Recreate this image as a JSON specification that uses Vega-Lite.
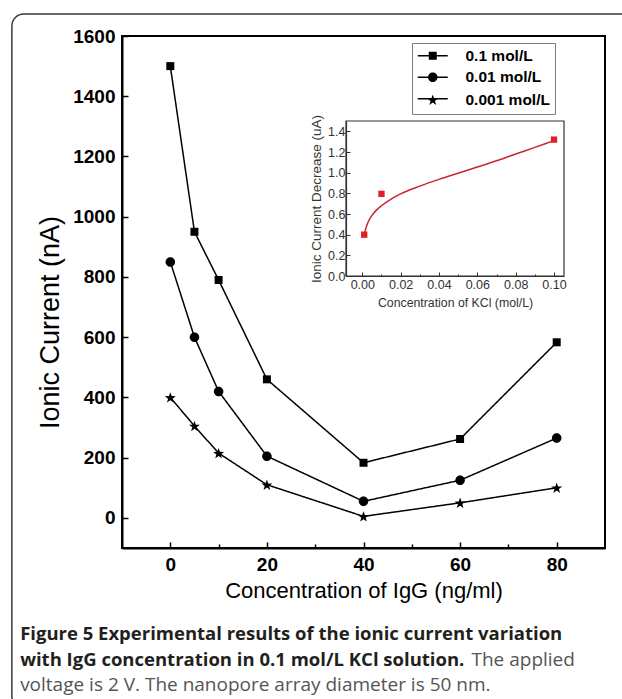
{
  "$schema": "https://vega.github.io/schema/vega-lite/v6.json",
  "width": 483,
  "height": 512,
  "autosize": {"type": "none"},
  "padding": {"left": 122, "top": 36, "right": 17, "bottom": 151},
  "background": "white",
  "datasets": {
    "main": [
      {"series": "0.1 mol/L", "igg": 0, "current": 1500},
      {"series": "0.1 mol/L", "igg": 5, "current": 950},
      {"series": "0.1 mol/L", "igg": 10, "current": 790},
      {"series": "0.1 mol/L", "igg": 20, "current": 460},
      {"series": "0.1 mol/L", "igg": 40, "current": 183},
      {"series": "0.1 mol/L", "igg": 60, "current": 262},
      {"series": "0.1 mol/L", "igg": 80, "current": 583},
      {"series": "0.01 mol/L", "igg": 0, "current": 850},
      {"series": "0.01 mol/L", "igg": 5, "current": 600},
      {"series": "0.01 mol/L", "igg": 10, "current": 420},
      {"series": "0.01 mol/L", "igg": 20, "current": 205},
      {"series": "0.01 mol/L", "igg": 40, "current": 55},
      {"series": "0.01 mol/L", "igg": 60, "current": 125},
      {"series": "0.01 mol/L", "igg": 80, "current": 265},
      {"series": "0.001 mol/L", "igg": 0, "current": 400},
      {"series": "0.001 mol/L", "igg": 5, "current": 305},
      {"series": "0.001 mol/L", "igg": 10, "current": 215},
      {"series": "0.001 mol/L", "igg": 20, "current": 110},
      {"series": "0.001 mol/L", "igg": 40, "current": 5},
      {"series": "0.001 mol/L", "igg": 60, "current": 50},
      {"series": "0.001 mol/L", "igg": 80, "current": 100}
    ],
    "inset_pts": [
      {"kcl": 0.001, "dec": 0.4},
      {"kcl": 0.01, "dec": 0.795},
      {"kcl": 0.1, "dec": 1.32}
    ],
    "inset_fit": [
      {"kcl": 0.001, "dec": 0.4},
      {"kcl": 0.002, "dec": 0.47},
      {"kcl": 0.003, "dec": 0.52},
      {"kcl": 0.005, "dec": 0.585},
      {"kcl": 0.0075, "dec": 0.64},
      {"kcl": 0.01, "dec": 0.68},
      {"kcl": 0.015, "dec": 0.745},
      {"kcl": 0.02, "dec": 0.795},
      {"kcl": 0.03, "dec": 0.87},
      {"kcl": 0.04, "dec": 0.935},
      {"kcl": 0.05, "dec": 0.995},
      {"kcl": 0.06, "dec": 1.055},
      {"kcl": 0.07, "dec": 1.115},
      {"kcl": 0.08, "dec": 1.18},
      {"kcl": 0.09, "dec": 1.245},
      {"kcl": 0.1, "dec": 1.31}
    ],
    "one": [{"v": 0}]
  },
  "title": {
    "text": ["Figure 5 Experimental results of the ionic current variation", "with IgG concentration in 0.1 mol/L KCl solution."],
    "subtitle": "voltage is 2 V. The nanopore array diameter is 50 nm.",
    "orient": "bottom",
    "anchor": "start",
    "frame": "bounds",
    "offset": -84,
    "dx": 9,
    "font": "Open Sans",
    "fontSize": 18.5,
    "fontWeight": "bold",
    "color": "#231f20",
    "lineHeight": 26,
    "subtitleFont": "Open Sans",
    "subtitleFontSize": 19,
    "subtitleFontWeight": "normal",
    "subtitleColor": "#555555",
    "subtitleLineHeight": 26,
    "subtitlePadding": 7
  },
  "layer": [
    {
      "layer": [
        {
          "data": {"name": "one"},
          "mark": {"type": "rect", "filled": false, "stroke": "#3a3a3a", "strokeWidth": 1.5, "cornerRadius": 12, "clip": false},
          "encoding": {
            "x": {"datum": -32.8, "type": "quantitative"},
            "x2": {"datum": 120},
            "y": {"datum": 1673, "type": "quantitative"},
            "y2": {"datum": -631}
          }
        },
        {
          "data": {"name": "main"},
          "mark": {"type": "line", "color": "black", "strokeWidth": 1.5},
          "encoding": {
            "x": {
              "field": "igg", "type": "quantitative",
              "scale": {"domain": [-10, 90], "nice": false, "zero": false},
              "axis": {
                "orient": "bottom",
                "values": [0, 10, 20, 30, 40, 50, 60, 70, 80],
                "format": "d",
                "labelExpr": "datum.value % 20 === 0 ? datum.label : ''",
                "tickSize": {"condition": {"test": "datum.value % 20 === 0", "value": -6}, "value": -4},
                "tickWidth": 1.5, "tickColor": "black",
                "domainColor": "black", "domainWidth": 2,
                "labelFont": "Liberation Sans", "labelFontSize": 19, "labelFontWeight": "bold", "labelColor": "black",
                "labelPadding": 13, "labelFlush": false, "labelOverlap": false,
                "title": "Concentration of IgG (ng/ml)",
                "titleFont": "Liberation Sans", "titleFontSize": 22, "titleFontWeight": "normal", "titleColor": "black",
                "titlePadding": 4, "grid": false
              }
            },
            "y": {
              "field": "current", "type": "quantitative",
              "scale": {"domain": [-100, 1600], "nice": false, "zero": false},
              "axis": {
                "orient": "left",
                "values": [0, 100, 200, 300, 400, 500, 600, 700, 800, 900, 1000, 1100, 1200, 1300, 1400, 1500, 1600],
                "format": "d",
                "labelExpr": "datum.value % 200 === 0 ? datum.label : ''",
                "tickSize": {"condition": {"test": "datum.value % 200 === 0", "value": -6}, "value": -4},
                "tickWidth": 1.5, "tickColor": "black",
                "domainColor": "black", "domainWidth": 2,
                "labelFont": "Liberation Sans", "labelFontSize": 19, "labelFontWeight": "bold", "labelColor": "black",
                "labelPadding": 13, "labelFlush": false, "labelOverlap": false,
                "title": "Ionic Current (nA)",
                "titleFont": "Liberation Sans", "titleFontSize": 27, "titleFontWeight": "normal", "titleColor": "black",
                "titlePadding": 8, "titleY": 286, "grid": false
              }
            },
            "strokeDash": {
              "field": "series", "type": "nominal", "sort": "descending",
              "scale": {"range": [[1, 0], [1, 0], [1, 0]]},
              "legend": {
                "title": null,
                "orient": "none",
                "legendX": 290,
                "legendY": 7,
                "strokeColor": null,
                "fillColor": null,
                "padding": 5,
                "symbolType": "M-3,0H3",
                "symbolSize": 100,
                "symbolStrokeWidth": 1.5,
                "symbolStrokeColor": "black",
                "symbolOffset": 8,
                "labelFont": "Liberation Sans",
                "labelFontWeight": "bold",
                "labelFontSize": 15.5,
                "labelExpr": "''",
                "labelOffset": 25,
                "rowPadding": 4.5
              }
            }
          }
        },
        {
          "data": {"name": "main"},
          "mark": {"type": "point", "filled": true, "color": "black", "opacity": 1, "size": 100},
          "encoding": {
            "x": {"field": "igg", "type": "quantitative", "title": "Concentration of IgG (ng/ml)"},
            "y": {"field": "current", "type": "quantitative", "title": "Ionic Current (nA)"},
            "shape": {
              "field": "series", "type": "nominal",
              "scale": {
                "domain": ["0.1 mol/L", "0.01 mol/L", "0.001 mol/L"],
                "range": [
                  "M-0.8,-0.8H0.8V0.8H-0.8Z",
                  "M-0.95,0A0.95,0.95 0 1,0 0.95,0A0.95,0.95 0 1,0 -0.95,0Z",
                  "M0,-1.04L0.27,-0.263L1.094,-0.246L0.437,0.252L0.676,1.04L0,0.569L-0.676,1.04L-0.437,0.252L-1.094,-0.246L-0.27,-0.263Z"
                ]
              },
              "legend": {
                "title": null,
                "orient": "none",
                "legendX": 290,
                "legendY": 7,
                "strokeColor": "#7f7f7f",
                "fillColor": null,
                "padding": 5,
                "symbolSize": 100,
                "symbolStrokeWidth": 1.5,
                "symbolFillColor": "black",
                "symbolStrokeColor": "black",
                "symbolOffset": 8,
                "labelFont": "Liberation Sans",
                "labelFontWeight": "bold",
                "labelFontSize": 15.5,
                "labelColor": "black",
                "labelOffset": 25,
                "rowPadding": 4.5
              }
            }
          }
        }
      ]
    },
    {
      "layer": [
        {
          "data": {"name": "one"},
          "mark": {"type": "rect", "filled": false, "stroke": "#333333", "strokeWidth": 1.2},
          "encoding": {
            "x": {"datum": -0.0085, "type": "quantitative"},
            "x2": {"datum": 0.1052},
            "y": {"datum": 0, "type": "quantitative"},
            "y2": {"datum": 1.5}
          }
        },
        {
          "data": {"name": "inset_fit"},
          "mark": {"type": "line", "color": "#c8262c", "strokeWidth": 1.5, "interpolate": "monotone"},
          "encoding": {
            "x": {
              "field": "kcl", "type": "quantitative",
              "scale": {"domain": [-0.0085, 0.1052], "range": [224, 442], "nice": false, "zero": false},
              "axis": {
                "orient": "bottom", "offset": -272,
                "values": [0, 0.01, 0.02, 0.03, 0.04, 0.05, 0.06, 0.07, 0.08, 0.09, 0.1],
                "labelExpr": "round(datum.value * 100) % 2 === 0 ? format(datum.value, '.2f') : ''",
                "tickSize": {"condition": {"test": "round(datum.value * 100) % 2 === 0", "value": -4}, "value": -2},
                "tickWidth": 1, "tickColor": "#333333",
                "domainColor": "#333333", "domainWidth": 1.2,
                "labelFont": "Liberation Sans", "labelFontSize": 12.5, "labelColor": "#333333",
                "labelPadding": 6, "labelFlush": false, "labelOverlap": false,
                "title": "Concentration of KCl (mol/L)",
                "titleFont": "Liberation Sans", "titleFontSize": 12.3, "titleFontWeight": "normal", "titleColor": "#333333",
                "titlePadding": 4, "grid": false
              }
            },
            "y": {
              "field": "dec", "type": "quantitative",
              "scale": {"domain": [0, 1.5], "range": [240, 85], "nice": false, "zero": false},
              "axis": {
                "orient": "left", "offset": -224,
                "values": [0, 0.1, 0.2, 0.3, 0.4, 0.5, 0.6, 0.7, 0.8, 0.9, 1.0, 1.1, 1.2, 1.3, 1.4],
                "labelExpr": "round(datum.value * 10) % 2 === 0 ? format(datum.value, '.1f') : ''",
                "tickSize": {"condition": {"test": "round(datum.value * 10) % 2 === 0", "value": -4}, "value": -2},
                "tickWidth": 1, "tickColor": "#333333",
                "domainColor": "#333333", "domainWidth": 1.2,
                "labelFont": "Liberation Sans", "labelFontSize": 12.5, "labelColor": "#333333",
                "labelPadding": 5, "labelFlush": false, "labelOverlap": false,
                "title": "Ionic Current Decrease (uA)",
                "titleFont": "Liberation Sans", "titleFontSize": 13.5, "titleFontWeight": "normal", "titleColor": "#333333",
                "titlePadding": 4, "grid": false
              }
            }
          }
        },
        {
          "data": {"name": "inset_pts"},
          "mark": {"type": "square", "color": "#e41e26", "size": 40, "opacity": 1},
          "encoding": {
            "x": {"field": "kcl", "type": "quantitative", "title": "Concentration of KCl (mol/L)"},
            "y": {"field": "dec", "type": "quantitative", "title": "Ionic Current Decrease (uA)"}
          }
        }
      ]
    },
    {
      "data": {"name": "one"},
      "mark": {"type": "point", "opacity": 0},
      "encoding": {
        "x": {
          "field": "v", "type": "quantitative",
          "scale": {"domain": [0, 1]},
          "axis": {
            "orient": "bottom", "domain": false, "ticks": false, "labels": false, "grid": false,
            "title": "The applied",
            "titleX": 349, "titleY": 102,
            "titleAlign": "left", "titleBaseline": "top", "titleAnchor": "start",
            "titleFont": "Open Sans", "titleFontSize": 19, "titleFontWeight": "normal", "titleColor": "#555555"
          }
        }
      }
    }
  ],
  "resolve": {"scale": {"x": "independent", "y": "independent"}},
  "config": {
    "view": {"stroke": "black", "strokeWidth": 2},
    "axis": {"grid": false},
    "font": "Liberation Sans"
  }
}
